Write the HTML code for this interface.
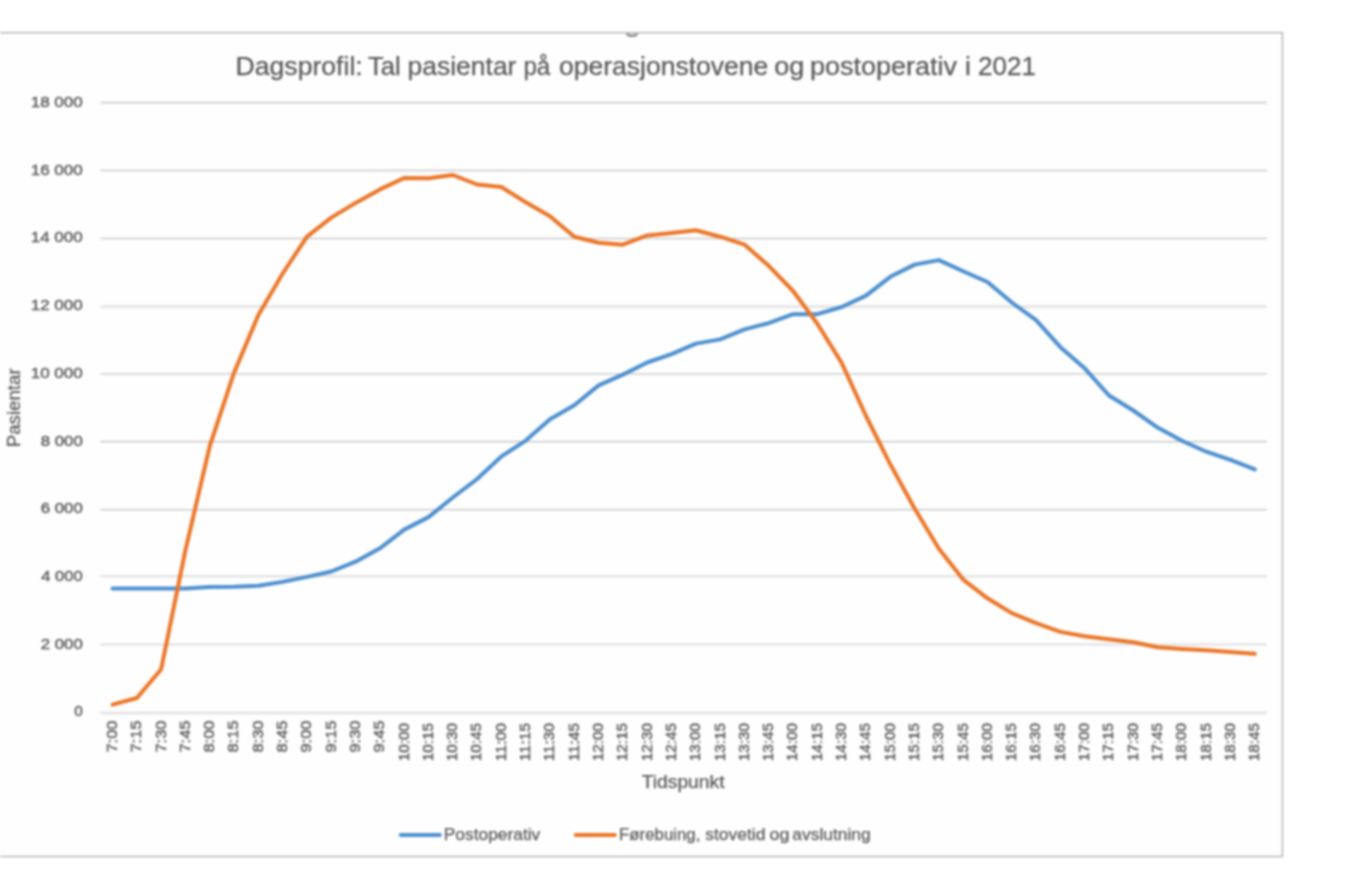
<!DOCTYPE html>
<html><head><meta charset="utf-8"><style>
html,body{margin:0;padding:0;background:#fff;width:1345px;height:896px;overflow:hidden}
svg{display:block;font-family:"Liberation Sans",sans-serif;filter:blur(0.8px)}
svg text{fill:#595959;stroke:#595959;stroke-width:0.4px}
svg text.t{stroke-width:0.25px}
</style></head><body>
<svg width="1345" height="896" viewBox="0 0 1345 896">
<rect x="0" y="0" width="1345" height="896" fill="#fff"/>
<rect x="-10" y="32.7" width="1292.4" height="823.8" fill="#FEFEFE" stroke="#B0ACB0" stroke-width="1.3"/>
<path d="M626.8,33.6 C628.5,36.6 635.5,36.6 637.2,33.6" fill="none" stroke="#8A8A8A" stroke-width="2.2"/>
<line x1="100.4" y1="713.0" x2="1267.0" y2="713.0" stroke="#E5E5E5" stroke-width="3"/>
<line x1="100.4" y1="644.5" x2="1267.0" y2="644.5" stroke="#E5E5E5" stroke-width="2.6"/>
<line x1="100.4" y1="576.2" x2="1267.0" y2="576.2" stroke="#E4E4E4" stroke-width="2.6"/>
<line x1="100.4" y1="509.7" x2="1267.0" y2="509.7" stroke="#C2C2C2" stroke-width="1.3"/>
<line x1="100.4" y1="441.7" x2="1267.0" y2="441.7" stroke="#BEBEBE" stroke-width="1.3"/>
<line x1="100.4" y1="373.9" x2="1267.0" y2="373.9" stroke="#D6D6D6" stroke-width="1.6"/>
<line x1="100.4" y1="306.6" x2="1267.0" y2="306.6" stroke="#E5E5E5" stroke-width="2.6"/>
<line x1="100.4" y1="238.5" x2="1267.0" y2="238.5" stroke="#CCCCCC" stroke-width="1.3"/>
<line x1="100.4" y1="170.5" x2="1267.0" y2="170.5" stroke="#CACACA" stroke-width="1.3"/>
<line x1="100.4" y1="102.55" x2="1267.0" y2="102.55" stroke="#C0C0C0" stroke-width="1.3"/>
<text x="74.20" y="715.53" font-size="15.3">0</text>
<text x="40.67" y="648.73" font-size="15.3" textLength="42.11" lengthAdjust="spacingAndGlyphs">2 000</text>
<text x="41.23" y="580.73" font-size="15.3" textLength="41.55" lengthAdjust="spacingAndGlyphs">4 000</text>
<text x="40.67" y="512.83" font-size="15.3" textLength="42.11" lengthAdjust="spacingAndGlyphs">6 000</text>
<text x="40.67" y="445.73" font-size="15.3" textLength="42.11" lengthAdjust="spacingAndGlyphs">8 000</text>
<text x="30.71" y="377.93" font-size="15.3" textLength="52.09" lengthAdjust="spacingAndGlyphs">10 000</text>
<text x="30.71" y="309.73" font-size="15.3" textLength="52.09" lengthAdjust="spacingAndGlyphs">12 000</text>
<text x="30.71" y="241.73" font-size="15.3" textLength="52.09" lengthAdjust="spacingAndGlyphs">14 000</text>
<text x="30.71" y="175.13" font-size="15.3" textLength="52.09" lengthAdjust="spacingAndGlyphs">16 000</text>
<text x="30.71" y="106.83" font-size="15.3" textLength="52.09" lengthAdjust="spacingAndGlyphs">18 000</text>
<text transform="translate(116.90,720.5) rotate(-90)" font-size="15.2" text-anchor="end" textLength="32.1" lengthAdjust="spacingAndGlyphs">7:00</text>
<text transform="translate(141.21,720.5) rotate(-90)" font-size="15.2" text-anchor="end" textLength="32.1" lengthAdjust="spacingAndGlyphs">7:15</text>
<text transform="translate(165.51,720.5) rotate(-90)" font-size="15.2" text-anchor="end" textLength="32.1" lengthAdjust="spacingAndGlyphs">7:30</text>
<text transform="translate(189.81,720.5) rotate(-90)" font-size="15.2" text-anchor="end" textLength="32.1" lengthAdjust="spacingAndGlyphs">7:45</text>
<text transform="translate(214.12,720.5) rotate(-90)" font-size="15.2" text-anchor="end" textLength="32.1" lengthAdjust="spacingAndGlyphs">8:00</text>
<text transform="translate(238.42,720.5) rotate(-90)" font-size="15.2" text-anchor="end" textLength="32.1" lengthAdjust="spacingAndGlyphs">8:15</text>
<text transform="translate(262.73,720.5) rotate(-90)" font-size="15.2" text-anchor="end" textLength="32.1" lengthAdjust="spacingAndGlyphs">8:30</text>
<text transform="translate(287.03,720.5) rotate(-90)" font-size="15.2" text-anchor="end" textLength="32.1" lengthAdjust="spacingAndGlyphs">8:45</text>
<text transform="translate(311.34,720.5) rotate(-90)" font-size="15.2" text-anchor="end" textLength="32.1" lengthAdjust="spacingAndGlyphs">9:00</text>
<text transform="translate(335.64,720.5) rotate(-90)" font-size="15.2" text-anchor="end" textLength="32.1" lengthAdjust="spacingAndGlyphs">9:15</text>
<text transform="translate(359.94,720.5) rotate(-90)" font-size="15.2" text-anchor="end" textLength="32.1" lengthAdjust="spacingAndGlyphs">9:30</text>
<text transform="translate(384.25,720.5) rotate(-90)" font-size="15.2" text-anchor="end" textLength="32.1" lengthAdjust="spacingAndGlyphs">9:45</text>
<text transform="translate(408.55,723.0) rotate(-90)" font-size="15.2" text-anchor="end" textLength="38.2" lengthAdjust="spacingAndGlyphs">10:00</text>
<text transform="translate(432.86,723.0) rotate(-90)" font-size="15.2" text-anchor="end" textLength="38.2" lengthAdjust="spacingAndGlyphs">10:15</text>
<text transform="translate(457.16,723.0) rotate(-90)" font-size="15.2" text-anchor="end" textLength="38.2" lengthAdjust="spacingAndGlyphs">10:30</text>
<text transform="translate(481.46,723.0) rotate(-90)" font-size="15.2" text-anchor="end" textLength="38.2" lengthAdjust="spacingAndGlyphs">10:45</text>
<text transform="translate(505.77,723.0) rotate(-90)" font-size="15.2" text-anchor="end" textLength="38.2" lengthAdjust="spacingAndGlyphs">11:00</text>
<text transform="translate(530.07,723.0) rotate(-90)" font-size="15.2" text-anchor="end" textLength="38.2" lengthAdjust="spacingAndGlyphs">11:15</text>
<text transform="translate(554.38,723.0) rotate(-90)" font-size="15.2" text-anchor="end" textLength="38.2" lengthAdjust="spacingAndGlyphs">11:30</text>
<text transform="translate(578.68,723.0) rotate(-90)" font-size="15.2" text-anchor="end" textLength="38.2" lengthAdjust="spacingAndGlyphs">11:45</text>
<text transform="translate(602.99,723.0) rotate(-90)" font-size="15.2" text-anchor="end" textLength="38.2" lengthAdjust="spacingAndGlyphs">12:00</text>
<text transform="translate(627.29,723.0) rotate(-90)" font-size="15.2" text-anchor="end" textLength="38.2" lengthAdjust="spacingAndGlyphs">12:15</text>
<text transform="translate(651.59,723.0) rotate(-90)" font-size="15.2" text-anchor="end" textLength="38.2" lengthAdjust="spacingAndGlyphs">12:30</text>
<text transform="translate(675.90,723.0) rotate(-90)" font-size="15.2" text-anchor="end" textLength="38.2" lengthAdjust="spacingAndGlyphs">12:45</text>
<text transform="translate(700.20,723.0) rotate(-90)" font-size="15.2" text-anchor="end" textLength="38.2" lengthAdjust="spacingAndGlyphs">13:00</text>
<text transform="translate(724.51,723.0) rotate(-90)" font-size="15.2" text-anchor="end" textLength="38.2" lengthAdjust="spacingAndGlyphs">13:15</text>
<text transform="translate(748.81,723.0) rotate(-90)" font-size="15.2" text-anchor="end" textLength="38.2" lengthAdjust="spacingAndGlyphs">13:30</text>
<text transform="translate(773.11,723.0) rotate(-90)" font-size="15.2" text-anchor="end" textLength="38.2" lengthAdjust="spacingAndGlyphs">13:45</text>
<text transform="translate(797.42,723.0) rotate(-90)" font-size="15.2" text-anchor="end" textLength="38.2" lengthAdjust="spacingAndGlyphs">14:00</text>
<text transform="translate(821.72,723.0) rotate(-90)" font-size="15.2" text-anchor="end" textLength="38.2" lengthAdjust="spacingAndGlyphs">14:15</text>
<text transform="translate(846.03,723.0) rotate(-90)" font-size="15.2" text-anchor="end" textLength="38.2" lengthAdjust="spacingAndGlyphs">14:30</text>
<text transform="translate(870.33,723.0) rotate(-90)" font-size="15.2" text-anchor="end" textLength="38.2" lengthAdjust="spacingAndGlyphs">14:45</text>
<text transform="translate(894.64,723.0) rotate(-90)" font-size="15.2" text-anchor="end" textLength="38.2" lengthAdjust="spacingAndGlyphs">15:00</text>
<text transform="translate(918.94,723.0) rotate(-90)" font-size="15.2" text-anchor="end" textLength="38.2" lengthAdjust="spacingAndGlyphs">15:15</text>
<text transform="translate(943.24,723.0) rotate(-90)" font-size="15.2" text-anchor="end" textLength="38.2" lengthAdjust="spacingAndGlyphs">15:30</text>
<text transform="translate(967.55,723.0) rotate(-90)" font-size="15.2" text-anchor="end" textLength="38.2" lengthAdjust="spacingAndGlyphs">15:45</text>
<text transform="translate(991.85,723.0) rotate(-90)" font-size="15.2" text-anchor="end" textLength="38.2" lengthAdjust="spacingAndGlyphs">16:00</text>
<text transform="translate(1016.16,723.0) rotate(-90)" font-size="15.2" text-anchor="end" textLength="38.2" lengthAdjust="spacingAndGlyphs">16:15</text>
<text transform="translate(1040.46,723.0) rotate(-90)" font-size="15.2" text-anchor="end" textLength="38.2" lengthAdjust="spacingAndGlyphs">16:30</text>
<text transform="translate(1064.76,723.0) rotate(-90)" font-size="15.2" text-anchor="end" textLength="38.2" lengthAdjust="spacingAndGlyphs">16:45</text>
<text transform="translate(1089.07,723.0) rotate(-90)" font-size="15.2" text-anchor="end" textLength="38.2" lengthAdjust="spacingAndGlyphs">17:00</text>
<text transform="translate(1113.37,723.0) rotate(-90)" font-size="15.2" text-anchor="end" textLength="38.2" lengthAdjust="spacingAndGlyphs">17:15</text>
<text transform="translate(1137.68,723.0) rotate(-90)" font-size="15.2" text-anchor="end" textLength="38.2" lengthAdjust="spacingAndGlyphs">17:30</text>
<text transform="translate(1161.98,723.0) rotate(-90)" font-size="15.2" text-anchor="end" textLength="38.2" lengthAdjust="spacingAndGlyphs">17:45</text>
<text transform="translate(1186.29,723.0) rotate(-90)" font-size="15.2" text-anchor="end" textLength="38.2" lengthAdjust="spacingAndGlyphs">18:00</text>
<text transform="translate(1210.59,723.0) rotate(-90)" font-size="15.2" text-anchor="end" textLength="38.2" lengthAdjust="spacingAndGlyphs">18:15</text>
<text transform="translate(1234.89,723.0) rotate(-90)" font-size="15.2" text-anchor="end" textLength="38.2" lengthAdjust="spacingAndGlyphs">18:30</text>
<text transform="translate(1259.20,723.0) rotate(-90)" font-size="15.2" text-anchor="end" textLength="38.2" lengthAdjust="spacingAndGlyphs">18:45</text>
<polyline points="112.55,588.60 136.86,588.60 161.16,588.60 185.46,588.40 209.77,587.00 234.07,586.80 258.38,585.80 282.68,581.90 306.99,576.90 331.29,571.50 355.59,561.70 379.90,548.30 404.20,529.60 428.51,517.10 452.81,497.50 477.11,479.00 501.42,456.40 525.72,440.60 550.03,419.20 574.33,405.30 598.64,385.40 622.94,374.60 647.24,362.50 671.55,354.20 695.85,343.60 720.16,339.40 744.46,329.40 768.76,323.10 793.07,314.20 817.37,314.20 841.68,307.00 865.98,295.60 890.29,276.80 914.59,264.60 938.89,260.10 963.20,271.30 987.50,282.00 1011.81,302.50 1036.11,320.20 1060.41,347.20 1084.72,368.30 1109.02,395.50 1133.33,410.50 1157.63,427.60 1181.94,440.70 1206.24,451.70 1230.54,459.80 1254.85,469.40" fill="none" stroke="#4E90CF" stroke-width="4.0" stroke-linejoin="round" stroke-linecap="round"/>
<polyline points="112.55,704.60 136.86,698.00 161.16,669.20 185.46,550.00 209.77,446.00 234.07,372.60 258.38,315.00 282.68,273.50 306.99,236.60 331.29,217.60 355.59,202.90 379.90,189.40 404.20,178.00 428.51,178.30 452.81,175.00 477.11,184.50 501.42,187.00 525.72,202.30 550.03,216.30 574.33,236.70 598.64,242.80 622.94,244.70 647.24,235.40 671.55,233.00 695.85,230.30 720.16,236.70 744.46,244.60 768.76,265.80 793.07,291.00 817.37,323.80 841.68,362.90 865.98,416.00 890.29,464.30 914.59,508.50 938.89,548.80 963.20,579.60 987.50,598.30 1011.81,613.10 1036.11,623.20 1060.41,631.90 1084.72,636.30 1109.02,639.30 1133.33,642.30 1157.63,647.30 1181.94,648.90 1206.24,650.30 1230.54,652.00 1254.85,653.80" fill="none" stroke="#EB7628" stroke-width="4.0" stroke-linejoin="round" stroke-linecap="round"/>
<text class="t" x="235.53" y="75.3" font-size="26.4" textLength="127.22" lengthAdjust="spacingAndGlyphs">Dagsprofil:</text>
<text class="t" x="367.91" y="75.3" font-size="26.4" textLength="32.89" lengthAdjust="spacingAndGlyphs">Tal</text>
<text class="t" x="407.55" y="75.3" font-size="26.4" textLength="108.90" lengthAdjust="spacingAndGlyphs">pasientar</text>
<text class="t" x="523.40" y="75.3" font-size="26.4" textLength="26.91" lengthAdjust="spacingAndGlyphs">på</text>
<text class="t" x="559.00" y="75.3" font-size="26.4" textLength="209.26" lengthAdjust="spacingAndGlyphs">operasjonstovene</text>
<text class="t" x="774.18" y="75.3" font-size="26.4" textLength="30.08" lengthAdjust="spacingAndGlyphs">og</text>
<text class="t" x="810.01" y="75.3" font-size="26.4" textLength="147.05" lengthAdjust="spacingAndGlyphs">postoperativ</text>
<text class="t" x="964.98" y="75.3" font-size="26.4" textLength="5.87" lengthAdjust="spacingAndGlyphs">i</text>
<text class="t" x="978.07" y="75.3" font-size="26.4" textLength="57.84" lengthAdjust="spacingAndGlyphs">2021</text>
<text class="t" x="641.68" y="787.5" font-size="18.4" textLength="82.91" lengthAdjust="spacingAndGlyphs">Tidspunkt</text>
<text class="t" transform="translate(20.4,445.7) rotate(-90)" x="-1.56" y="0" font-size="18" textLength="78.86" lengthAdjust="spacingAndGlyphs">Pasientar</text>
<line x1="400.8" y1="835" x2="439.8" y2="835" stroke="#4E90CF" stroke-width="4.0" stroke-linecap="round"/>
<line x1="575.7" y1="835" x2="614.8" y2="835" stroke="#EB7628" stroke-width="4.0" stroke-linecap="round"/>
<text class="t" x="443.70" y="839.6" font-size="17.4" textLength="96.61" lengthAdjust="spacingAndGlyphs">Postoperativ</text>
<text class="t" x="619.05" y="839.6" font-size="17.4" textLength="81.33" lengthAdjust="spacingAndGlyphs">Førebuing,</text>
<text class="t" x="705.20" y="839.6" font-size="17.4" textLength="60.22" lengthAdjust="spacingAndGlyphs">stovetid</text>
<text class="t" x="769.53" y="839.6" font-size="17.4" textLength="19.91" lengthAdjust="spacingAndGlyphs">og</text>
<text class="t" x="792.35" y="839.6" font-size="17.4" textLength="78.25" lengthAdjust="spacingAndGlyphs">avslutning</text>
</svg></body></html>
